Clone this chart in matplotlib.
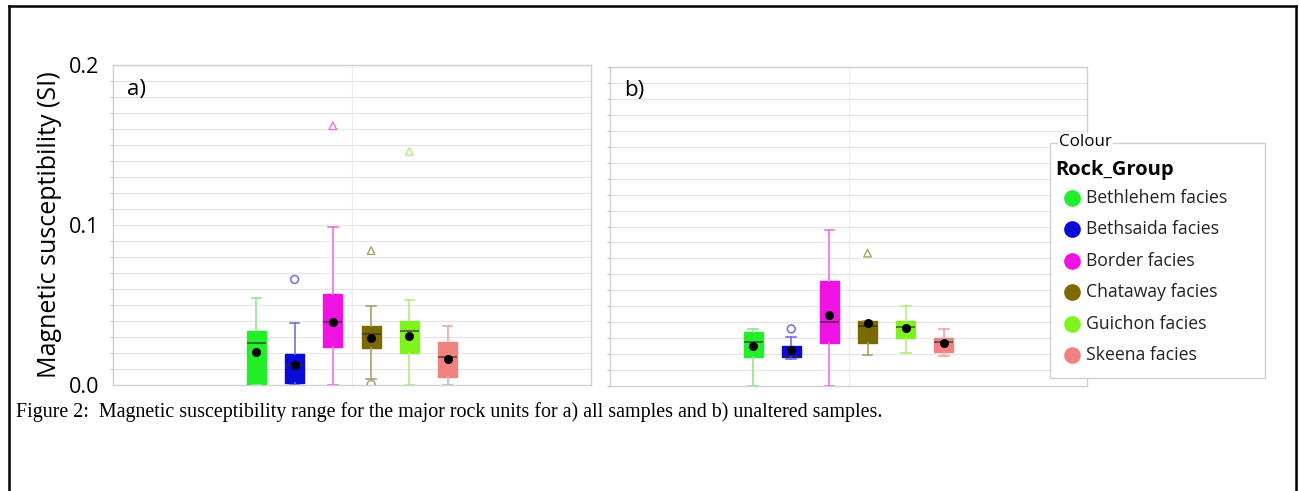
import matplotlib
matplotlib.use("Agg")
import matplotlib.pyplot as plt
from matplotlib.patches import Rectangle
from matplotlib.lines import Line2D

# ---------------- data ----------------
groups = ["Bethlehem facies", "Bethsaida facies", "Border facies",
          "Chataway facies", "Guichon facies", "Skeena facies"]
box_colors = ["#22ee2a", "#0a0ad6", "#f012e2", "#7a6a00", "#80f31e", "#f28282"]
whisk_colors = ["#8fe88f", "#6f6fe0", "#ee6fe6", "#a9a06a", "#b3ee80", "#f0a6a6"]

# panel a) all samples
a_low  = [0.0,    0.0,    0.0,    0.0035, 0.0,    0.0]
a_q1   = [0.0,    0.0015, 0.0238, 0.0233, 0.0200, 0.0048]
a_med  = [0.0265, 0.0125, 0.0394, 0.0317, 0.0340, 0.0173]
a_q3   = [0.0338, 0.0196, 0.0567, 0.0370, 0.0399, 0.0267]
a_high = [0.0546, 0.0390, 0.0990, 0.0494, 0.0534, 0.0367]
a_mean = [0.0208, 0.0125, 0.0396, 0.0296, 0.0305, 0.0163]
a_out_circle = [[], [0.066], [], [0.0004], [], []]
a_out_tri    = [[], [], [0.162], [0.084], [0.146], []]

# panel b) unaltered samples
b_low  = [0.0,    0.0169, 0.0,    0.0194, 0.0204, 0.0188]
b_q1   = [0.0179, 0.0180, 0.0270, 0.0267, 0.0302, 0.0214]
b_med  = [0.0275, 0.0182, 0.0402, 0.0375, 0.0370, 0.0273]
b_q3   = [0.0338, 0.0252, 0.0658, 0.0408, 0.0410, 0.0304]
b_high = [0.0356, 0.0308, 0.0980, 0.0408, 0.0500, 0.0356]
b_mean = [0.0250, 0.0225, 0.0448, 0.0398, 0.0362, 0.0267]
b_out_circle = [[], [0.0358], [], [], [], []]
b_out_tri    = [[], [], [], [0.0833], [], []]

y_ticks = [0.0, 0.1, 0.2]
y_ticklabels = ["0.0", "0.1", "0.2"]
panel_labels = ["a)", "b)"]
y_label = "Magnetic susceptibility (SI)"
caption = ("Figure 2:  Magnetic susceptibility range for the major rock units "
           "for a) all samples and b) unaltered samples.")
legend_frame_title = "Colour"
legend_title = "Rock_Group"

# ---------------- figure ----------------
W, H = 1299, 491
fig = plt.figure(figsize=(W / 100, H / 100), dpi=100)
fig.patch.set_facecolor("white")
FONT = "Open Sans"


def px(x, y):
    return x / W, 1 - y / H


def draw_panel(ax, low, q1, med, q3, high, mean, out_c, out_t, label):
    n = len(groups)
    step = 0.08
    positions = [(i - (n - 1) / 2) * step for i in range(n)]
    ax.set_xlim(-0.5, 0.5)
    ax.set_ylim(0, 0.2)
    # grid
    for k in range(1, 21):
        ax.axhline(k * 0.01, color="#e6e6e6", lw=0.9, zorder=0)
    ax.axvline(0, color="#ececec", lw=0.9, zorder=0)
    for i in range(n):
        stats = [dict(whislo=low[i], q1=q1[i], med=med[i], q3=q3[i],
                      whishi=high[i], fliers=[], label=groups[i])]
        ax.bxp(stats, positions=[positions[i]], widths=0.04,
               patch_artist=True, showfliers=False, manage_ticks=False,
               boxprops=dict(facecolor=box_colors[i], edgecolor=box_colors[i], lw=1),
               medianprops=dict(color="#303030", lw=1.2, alpha=0.75),
               whiskerprops=dict(color=whisk_colors[i], lw=1.2),
               capprops=dict(color=whisk_colors[i], lw=1.2),
               zorder=3)
        ax.scatter([positions[i]], [mean[i]], s=30, color="black", zorder=5)
        if out_c[i]:
            ax.scatter([positions[i]] * len(out_c[i]), out_c[i], s=32,
                       marker="o", facecolors="none",
                       edgecolors=whisk_colors[i], lw=1.1, zorder=4)
        if out_t[i]:
            ax.scatter([positions[i]] * len(out_t[i]), out_t[i], s=30,
                       marker="^", facecolors="none",
                       edgecolors=whisk_colors[i], lw=1.0, zorder=4)
    ax.set_xticks([])
    for s in ax.spines.values():
        s.set_color("#d0d0d0")
        s.set_linewidth(1.0)
    ax.text(0.03, 0.925, label, transform=ax.transAxes, fontsize=16,
            family=FONT, va="center", ha="left")


# panel a
x0, y0 = px(113, 385)
x1, y1 = px(591, 65)
ax_a = fig.add_axes([x0, y0, x1 - x0, y1 - y0])
draw_panel(ax_a, a_low, a_q1, a_med, a_q3, a_high, a_mean,
           a_out_circle, a_out_tri, panel_labels[0])
ax_a.set_yticks(y_ticks)
ax_a.set_yticklabels(y_ticklabels, family=FONT, fontsize=15.5)
ax_a.set_yticks([k * 0.01 for k in range(21)], minor=True)
ax_a.tick_params(axis="y", which="major", length=0, pad=10)
ax_a.tick_params(axis="y", which="minor", length=2, color="#bbbbbb")
ax_a.set_ylabel(y_label, family=FONT, fontsize=18, labelpad=5)

# panel b
x0, y0 = px(610, 386)
x1, y1 = px(1087, 67)
ax_b = fig.add_axes([x0, y0, x1 - x0, y1 - y0])
draw_panel(ax_b, b_low, b_q1, b_med, b_q3, b_high, b_mean,
           b_out_circle, b_out_tri, panel_labels[1])
ax_b.set_yticks([k * 0.01 for k in range(21)])
ax_b.set_yticklabels([])
ax_b.tick_params(axis="y", length=2, color="#bbbbbb")

# legend box (figure level, drawn on top of panel b)
lx0, ly0 = px(1050, 378)
lx1, ly1 = px(1265, 143)
fig.patches.append(Rectangle((lx0, ly0), lx1 - lx0, ly1 - ly0,
                             transform=fig.transFigure, facecolor="white",
                             edgecolor="#cfcfcf", lw=1.0, zorder=5))
tx, ty = px(1059, 142)
fig.text(tx, ty, legend_frame_title, family=FONT, fontsize=12.2, va="center",
         ha="left", zorder=7,
         bbox=dict(facecolor="white", edgecolor="none", pad=1.0))
tx, ty = px(1055, 170)
fig.text(tx, ty, legend_title, family=FONT, fontsize=14.5, fontweight="bold",
         va="center", ha="left", zorder=7)
for i, g in enumerate(groups):
    yy = 198 + i * 31.4
    mx, my = px(1072, yy)
    fig.lines.append(Line2D([mx], [my], marker="o", markersize=11,
                            color=box_colors[i], transform=fig.transFigure,
                            zorder=7))
    tx, ty = px(1086, yy)
    fig.text(tx, ty, g, family=FONT, fontsize=12.7, va="center", ha="left",
             color="#222222", zorder=7)

# caption
cx, cy = px(16, 412)
fig.text(cx, cy, caption, family="Liberation Serif", fontsize=14.4,
         va="center", ha="left")

# outer frame (open at bottom)
bx_l, by_t = px(9, 6)
bx_r, by_b = px(1296, 495)
for xs, ys in [([bx_l, bx_l], [by_b, by_t]), ([bx_l, bx_r], [by_t, by_t]),
               ([bx_r, bx_r], [by_t, by_b])]:
    fig.lines.append(Line2D(xs, ys, color="black", lw=1.8,
                            transform=fig.transFigure, zorder=8))

fig.savefig("out.png", dpi=100)
